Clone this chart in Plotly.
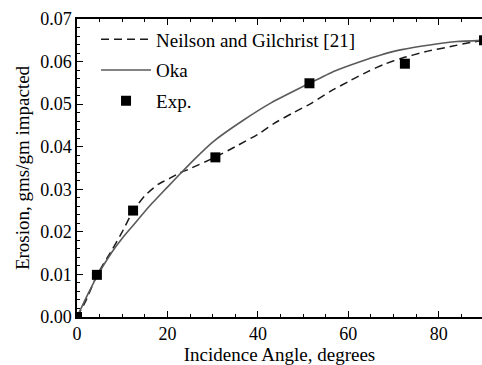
import plotly.graph_objects as go

# Neilson and Gilchrist [21] model (dashed)
ng_angle = [0, 2, 4.4, 7.7, 10, 12.4, 15, 18, 20.4, 22.6, 24.9, 30.5, 35, 40.3, 43.6,
            47.5, 51.8, 56, 60, 64.4, 68, 71.8, 77, 82.9, 87, 90]
ng_erosion = [0, 0.0039, 0.0098, 0.0157, 0.0200, 0.0249, 0.0285, 0.0312, 0.0325, 0.0338,
              0.0348, 0.0375, 0.0400, 0.0431, 0.0455, 0.0478, 0.0502, 0.0530, 0.0553,
              0.0577, 0.0594, 0.0608, 0.0623, 0.0636, 0.0645, 0.0650]

# Oka model (solid)
oka_angle = [0, 2, 4.4, 7.7, 10, 12.4, 16, 20, 22.6, 26, 30, 36.6, 42.9, 51.4, 57,
             62.9, 67, 71.8, 78, 84, 90]
oka_erosion = [0, 0.0045, 0.0095, 0.0152, 0.0185, 0.0215, 0.0260, 0.0305, 0.0334, 0.0371,
               0.0411, 0.0461, 0.0503, 0.0549, 0.0578, 0.0601, 0.0615, 0.0628, 0.0639,
               0.0647, 0.0650]

# Experimental points
exp_angle = [0, 4.4, 12.4, 30.6, 51.4, 72.5, 90]
exp_erosion = [0.0, 0.0099, 0.0250, 0.0375, 0.0549, 0.0595, 0.0650]

x_ticks = [0, 20, 40, 60, 80]
y_ticks = [0.00, 0.01, 0.02, 0.03, 0.04, 0.05, 0.06, 0.07]

FONT = "Liberation Serif"

fig = go.Figure()
fig.add_trace(go.Scatter(
    x=ng_angle, y=ng_erosion, mode="lines", name="Neilson and Gilchrist [21]",
    line=dict(color="#1a1a1a", width=1.5, dash="8px,5px", shape="spline", smoothing=0.5),
    legendgroup="a"))
fig.add_trace(go.Scatter(
    x=oka_angle, y=oka_erosion, mode="lines", name="Oka",
    line=dict(color="#5a5a5a", width=1.6, shape="spline", smoothing=0.5),
    legendgroup="b"))
fig.add_trace(go.Scatter(
    x=exp_angle, y=exp_erosion, mode="markers", name="Exp.",
    marker=dict(symbol="square", size=10, color="black", line=dict(width=0)),
    legendgroup="c"))

axis_common = dict(
    showline=True, linecolor="black", linewidth=1.5,
    ticks="inside", tickcolor="black", tickwidth=1.2,
    showgrid=False, zeroline=False,
    tickfont=dict(family=FONT, size=18, color="black"),
)

fig.update_xaxes(
    **axis_common, range=[0, 89.55], tickvals=x_ticks, ticklen=6,
    mirror="ticks",
    minor=dict(dtick=5, ticks="inside", ticklen=3, tickcolor="black", tickwidth=1.2),
    title=dict(text="Incidence Angle, degrees", font=dict(family=FONT, size=19, color="black"),
               standoff=3),
)
fig.update_yaxes(
    **axis_common, range=[0, 0.07], tickvals=y_ticks, tickformat=".2f", ticklen=6,
    minor=dict(dtick=0.002, ticks="inside", ticklen=3, tickcolor="black", tickwidth=1.2),
    title=dict(text="Erosion, gms/gm impacted", font=dict(family=FONT, size=19, color="black"),
               standoff=6),
)

fig.update_layout(
    width=482, height=365,
    margin=dict(l=77, r=0, t=19, b=48),
    plot_bgcolor="white", paper_bgcolor="white",
    showlegend=True,
    legend=dict(
        x=0.047, y=0.995, xanchor="left", yanchor="top",
        bgcolor="rgba(0,0,0,0)", borderwidth=0,
        font=dict(family=FONT, size=19, color="black"),
        traceorder="grouped", tracegroupgap=3, itemwidth=50,
    ),
)

fig.write_html("out.html")
